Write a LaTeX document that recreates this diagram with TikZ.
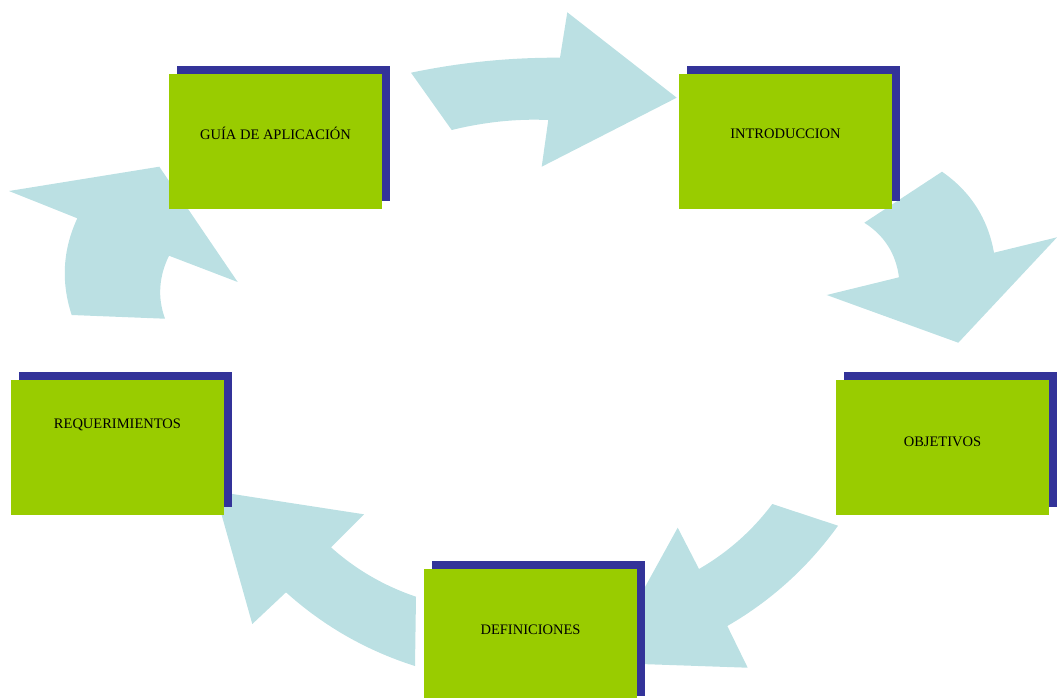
\documentclass[tikz,border=0pt]{standalone}
\usepackage{fontspec}
\setmainfont{Liberation Serif}
\usetikzlibrary{shadows}
\definecolor{arrowblue}{HTML}{BBE0E3}
\definecolor{boxgreen}{HTML}{99CC00}
\definecolor{shadowblue}{HTML}{333399}
\begin{document}
\begin{tikzpicture}[x=1pt,y=-1pt,
  cyclearrow/.style={fill=arrowblue},
  stepbox/.style={rectangle, fill=boxgreen, minimum width=213pt, minimum height=135pt, inner sep=0pt,
    drop shadow={shadow xshift=8pt, shadow yshift=8pt, fill=shadowblue, opacity=1}},
  steplabel/.style={font=\fontsize{14.5}{17}\selectfont, text=black, inner sep=0pt, anchor=base}]
\useasboundingbox (0,0) rectangle (1057,697);
\clip (0,0) rectangle (1057,697);

% curved cycle arrows
\fill[cyclearrow] (411,72.7) .. controls (460.2,62.4) and (509.8,57.4) .. (560,57.7) -- (567.3,12.3) -- (676.7,97.7) -- (541.7,166.7) -- (548.3,120) .. controls (516.6,118.6) and (484.4,122) .. (451.7,130) -- cycle;

\fill[cyclearrow] (942,171.7) -- (864.3,222.7) .. controls (884.4,235.5) and (895.9,253.7) .. (899,277.3) -- (826.7,295) -- (958.3,342.7) -- (1057,237.3) -- (994,252.7) .. controls (987.9,218.5) and (970.5,191.5) .. (942,171.7) -- cycle;

\fill[cyclearrow] (838,525.7) -- (772.3,504) .. controls (752.3,530.7) and (727.8,552.3) .. (699,569) -- (677.7,527.7) -- (603.3,662.7) -- (747.7,667.7) -- (727.3,626) .. controls (771.4,600.5) and (808.3,567) .. (838,525.7) -- cycle;

\fill[cyclearrow] (415,666) -- (416,596.7) .. controls (384.3,586) and (355.9,569.6) .. (331,547.3) -- (364,514.3) -- (215,491.3) -- (252.3,624) -- (286,592.3) .. controls (323.7,626.2) and (366.7,650.7) .. (415,666) -- cycle;

\fill[cyclearrow] (71.7,315) -- (165,318.7) .. controls (157.4,297.7) and (158.8,276.7) .. (169,255.7) -- (237.7,282) -- (159.3,166.7) -- (9,191) -- (77.3,218.3) .. controls (62.7,249.8) and (60.9,282.1) .. (71.7,315) -- cycle;

% boxes
\node[stepbox] (guia)  at (275.5,141.5) {};
\node[stepbox] (intro) at (785.5,141.5) {};
\node[stepbox] (obj)   at (942.5,447.5) {};
\node[stepbox] (defi)  at (530.5,636.5) {};
\node[stepbox] (req)   at (117.5,447.5) {};

% labels
\node[steplabel] (guiat)  at (275.5,139.3) {GUÍA DE APLICACIÓN};
\node[steplabel] (introt) at (785.5,138.3) {INTRODUCCION};
\node[steplabel] (objt)   at (942.5,446) {OBJETIVOS};
\node[steplabel] (defit)  at (530.5,634.7) {DEFINICIONES};
\node[steplabel] (reqt)   at (117.5,428) {REQUERIMIENTOS};
\end{tikzpicture}
\end{document}
